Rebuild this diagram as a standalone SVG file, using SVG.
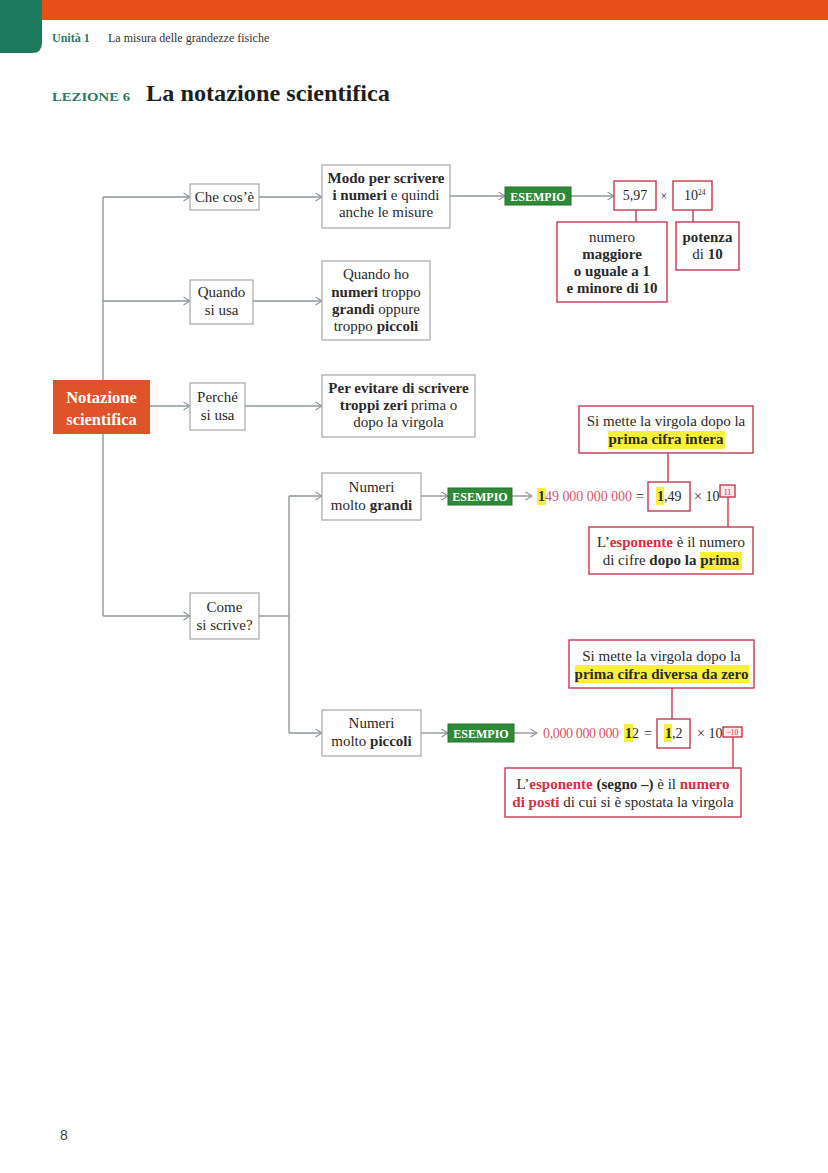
<svg xmlns="http://www.w3.org/2000/svg" width="828" height="1173" viewBox="0 0 828 1173">
<defs>
<style>
text{font-family:"Liberation Serif","Times New Roman",serif;fill:#2a2a2a}
.t{font-size:15px}
.c{text-anchor:middle}
.b{font-weight:bold}
.box{fill:#fff;stroke:#a3a8ab;stroke-width:1.2}
.rbox{fill:#fff;stroke:#c8384f;stroke-width:1.4}
.line{fill:none;stroke:#8e979b;stroke-width:1.4}
.rline{fill:none;stroke:#c8384f;stroke-width:1.4}
.es{fill:#2f8a38;stroke:#257030;stroke-width:1}
.est{font-size:12px;font-weight:bold;fill:#fff;text-anchor:middle}
.hl{fill:#f7ef3c}
.red{fill:#d62e45}
.pk{fill:#d6566a}
.n{font-size:14px}
</style>
<marker id="arr" viewBox="0 0 8 10" refX="7.5" refY="5" markerWidth="8" markerHeight="10" orient="auto" markerUnits="userSpaceOnUse">
<path d="M1,1 L7.5,5 L1,9" fill="none" stroke="#8e979b" stroke-width="1.2"/>
</marker>
</defs>
<rect width="828" height="1173" fill="#fff"/>
<!-- header -->
<rect x="30" y="0" width="798" height="20" fill="#e8501a"/>
<path d="M0,0 H42 V43 Q42,53 32,53 H0 Z" fill="#1e7a5c"/>
<text x="52" y="42" style="font-size:12px;font-weight:bold;fill:#2b7a68">Unità 1</text>
<text x="108" y="42" style="font-size:12px;fill:#333">La misura delle grandezze fisiche</text>
<text x="52" y="101" style="font-size:13px;font-weight:bold;fill:#2b7a68" textLength="78" lengthAdjust="spacingAndGlyphs">LEZIONE 6</text>
<text x="146" y="101" style="font-size:23px;font-weight:bold;fill:#1e1e1e" textLength="244" lengthAdjust="spacingAndGlyphs">La notazione scientifica</text>

<!-- connectors -->
<g id="connectors">
<path class="line" d="M103,197 V616"/>
<path class="line" d="M103,197 H190" marker-end="url(#arr)"/>
<path class="line" d="M103,301 H190" marker-end="url(#arr)"/>
<path class="line" d="M150,406 H190" marker-end="url(#arr)"/>
<path class="line" d="M103,616 H190" marker-end="url(#arr)"/>
<path class="line" d="M259,197 H322" marker-end="url(#arr)"/>
<path class="line" d="M253,301 H322" marker-end="url(#arr)"/>
<path class="line" d="M245,406 H322" marker-end="url(#arr)"/>
<path class="line" d="M259,616 H289"/>
<path class="line" d="M289,496 V733"/>
<path class="line" d="M289,496 H322" marker-end="url(#arr)"/>
<path class="line" d="M289,733 H322" marker-end="url(#arr)"/>
<path class="line" d="M450,196 H505" marker-end="url(#arr)"/>
<path class="line" d="M571,196 H614" marker-end="url(#arr)"/>
<path class="line" d="M421,496 H448" marker-end="url(#arr)"/>
<path class="line" d="M512,496 H532" marker-end="url(#arr)"/>
<path class="line" d="M421,733 H448" marker-end="url(#arr)"/>
<path class="line" d="M514,733 H537" marker-end="url(#arr)"/>
<path class="rline" d="M636,210 V222"/>
<path class="rline" d="M693,210 V222"/>
<path class="rline" d="M668,453 V482"/>
<path class="rline" d="M728,497 V527"/>
<path class="rline" d="M672,688 V719"/>
<path class="rline" d="M733,737 V768"/>
</g>

<!-- nodes -->
<g id="n-notazione">
<rect x="53" y="380" width="97" height="54" fill="#e0522a"/>
<text x="101.5" y="403" class="c b" style="font-size:16.5px;fill:#fff">Notazione</text>
<text x="101.5" y="425" class="c b" style="font-size:16.5px;fill:#fff">scientifica</text>
</g>
<g id="n-checose">
<rect class="box" x="190" y="184" width="69" height="26"/>
<text x="224.5" y="202" class="t c">Che cos’è</text>
</g>
<g id="n-quando">
<rect class="box" x="190" y="280" width="63" height="44"/>
<text x="221.5" y="297" class="t c">Quando</text>
<text x="221.5" y="315" class="t c">si usa</text>
</g>
<g id="n-perche">
<rect class="box" x="190" y="383" width="55" height="47"/>
<text x="217.5" y="402" class="t c">Perché</text>
<text x="217.5" y="420" class="t c">si usa</text>
</g>
<g id="n-come">
<rect class="box" x="190" y="593" width="69" height="46"/>
<text x="224.5" y="612" class="t c">Come</text>
<text x="224.5" y="630" class="t c">si scrive?</text>
</g>
<g id="n-modo">
<rect class="box" x="322" y="165" width="128" height="63"/>
<text x="386" y="183" class="t c b">Modo per scrivere</text>
<text x="386" y="200" class="t c"><tspan class="b">i numeri</tspan> e quindi</text>
<text x="386" y="217" class="t c">anche le misure</text>
</g>
<g id="n-quandoho">
<rect class="box" x="322" y="261" width="108" height="79"/>
<text x="376" y="279" class="t c">Quando ho</text>
<text x="376" y="297" class="t c"><tspan class="b">numeri</tspan> troppo</text>
<text x="376" y="314" class="t c"><tspan class="b">grandi</tspan> oppure</text>
<text x="376" y="331" class="t c">troppo <tspan class="b">piccoli</tspan></text>
</g>
<g id="n-evitare">
<rect class="box" x="322" y="375" width="153" height="62"/>
<text x="398.5" y="393" class="t c b">Per evitare di scrivere</text>
<text x="398.5" y="410" class="t c"><tspan class="b">troppi zeri</tspan> prima o</text>
<text x="398.5" y="427" class="t c">dopo la virgola</text>
</g>
<g id="n-grandi">
<rect class="box" x="322" y="473" width="99" height="47"/>
<text x="371.5" y="492" class="t c">Numeri</text>
<text x="371.5" y="510" class="t c">molto <tspan class="b">grandi</tspan></text>
</g>
<g id="n-piccoli">
<rect class="box" x="322" y="710" width="99" height="46"/>
<text x="371.5" y="728" class="t c">Numeri</text>
<text x="371.5" y="746" class="t c">molto <tspan class="b">piccoli</tspan></text>
</g>

<!-- example 1 -->
<g id="n-esempio1">
<rect class="es" x="505" y="187" width="66" height="18"/>
<text x="538" y="200.5" class="est">ESEMPIO</text>
</g>
<g id="n-597">
<rect class="rbox" x="614" y="181" width="42" height="29"/>
<text x="635" y="200" class="c n">5,97</text>
</g>
<text x="664" y="200" style="font-size:12px" class="c">×</text>
<g id="n-1024">
<rect class="rbox" x="673" y="181" width="39" height="29"/>
<text x="684" y="200" class="n">10<tspan dy="-5" style="font-size:7.5px">24</tspan></text>
</g>
<g id="n-numero">
<rect class="rbox" x="557" y="222" width="110" height="80"/>
<text x="612" y="242" class="t c">numero</text>
<text x="612" y="259" class="t c b">maggiore</text>
<text x="612" y="276" class="t c b">o uguale a 1</text>
<text x="612" y="293" class="t c b">e minore di 10</text>
</g>
<g id="n-potenza">
<rect class="rbox" x="676" y="222" width="63" height="48"/>
<text x="707.5" y="242" class="t c b">potenza</text>
<text x="707.5" y="259" class="t c">di <tspan class="b">10</tspan></text>
</g>

<!-- example 2 -->
<g id="n-esempio2">
<rect class="es" x="448" y="488" width="64" height="17"/>
<text x="480" y="501" class="est">ESEMPIO</text>
</g>
<g id="n-num-grande">
<rect class="hl" x="537" y="488" width="9" height="17"/>
<text x="538" y="501" class="b n">1</text>
<text x="545" y="501" class="pk n" textLength="87" lengthAdjust="spacing">49 000 000 000</text>
<text x="636" y="501" class="n">=</text>
</g>
<g id="n-149">
<rect class="rbox" x="648" y="482" width="42" height="29"/>
<rect class="hl" x="656" y="487" width="8" height="18"/>
<text x="657" y="501" class="n"><tspan class="b">1</tspan>,49</text>
</g>
<text x="694" y="501" class="n">× 10</text>
<g id="n-exp11">
<rect class="rbox" x="720" y="485" width="15" height="12" style="fill:#fbe7ea"/>
<text x="727.5" y="494.5" class="c red" style="font-size:8px">11</text>
</g>
<g id="n-callout1">
<rect class="rbox" x="579" y="406" width="174" height="47"/>
<rect class="hl" x="608" y="431" width="117" height="18"/>
<text x="666" y="426" class="t c">Si mette la virgola dopo la</text>
<text x="666" y="444" class="t c b">prima cifra intera</text>
</g>
<g id="n-callout2">
<rect class="rbox" x="589" y="527" width="164" height="47"/>
<rect class="hl" x="700" y="552" width="42" height="18"/>
<text x="671" y="547" class="t c">L’<tspan class="b red">esponente</tspan> è il numero</text>
<text x="671" y="565" class="t c">di cifre <tspan class="b">dopo la prima</tspan></text>
</g>

<!-- example 3 -->
<g id="n-esempio3">
<rect class="es" x="448" y="724" width="66" height="18"/>
<text x="481" y="737.5" class="est">ESEMPIO</text>
</g>
<g id="n-num-piccolo">
<text x="543" y="738" class="pk n" textLength="76" lengthAdjust="spacing">0,000 000 000</text>
<rect class="hl" x="624" y="724" width="9" height="18"/>
<text x="625" y="738" class="n"><tspan class="b">1</tspan>2</text>
<text x="644" y="738" class="n">=</text>
</g>
<g id="n-12">
<rect class="rbox" x="657" y="719" width="33" height="29"/>
<rect class="hl" x="664" y="724" width="8" height="18"/>
<text x="665" y="738" class="n"><tspan class="b">1</tspan>,2</text>
</g>
<text x="697" y="738" class="n">× 10</text>
<g id="n-exp-10">
<rect class="rbox" x="723" y="727" width="19" height="10" style="fill:#fbe7ea"/>
<text x="732.5" y="735" class="c red" style="font-size:7.5px">−10</text>
</g>
<g id="n-callout3">
<rect class="rbox" x="569" y="640" width="185" height="48"/>
<rect class="hl" x="575" y="665" width="174" height="18"/>
<text x="661.5" y="661" class="t c">Si mette la virgola dopo la</text>
<text x="661.5" y="679" class="t c b">prima cifra diversa da zero</text>
</g>
<g id="n-callout4">
<rect class="rbox" x="505" y="768" width="236" height="49"/>
<text x="623" y="789" class="t c">L’<tspan class="b red">esponente</tspan> <tspan class="b">(segno –)</tspan> è il <tspan class="b red">numero</tspan></text>
<text x="623" y="807" class="t c"><tspan class="b red">di posti</tspan> di cui si è spostata la virgola</text>
</g>

<text x="60" y="1140" style="font-family:'Liberation Sans',Arial,sans-serif;font-size:14px;fill:#444">8</text>
</svg>
